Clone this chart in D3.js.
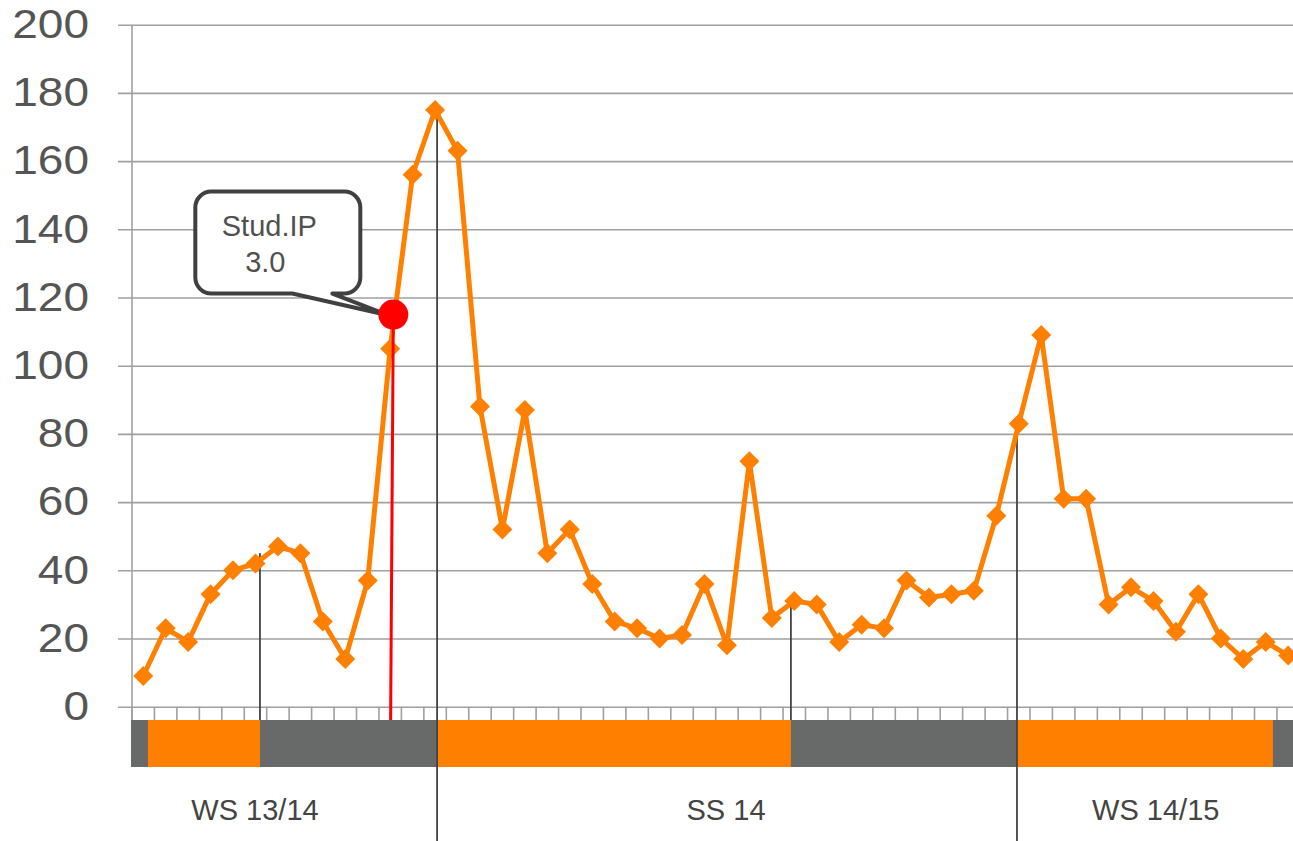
<!DOCTYPE html>
<html>
<head>
<meta charset="utf-8">
<script src="https://cdn.jsdelivr.net/npm/d3@7"></script>
<style>
  body { margin: 0; background: #fff; }
  svg { display: block; font-family: "Liberation Sans", Arial, sans-serif; }
</style>
</head>
<body>
<div id="chart"></div>
<script>
// weekly values (one point per week)
const weeks = d3.range(1, 53);
const visits = [9, 23, 19, 33, 40, 42, 47, 45, 25, 14, 37, 105, 156, 175, 163, 88, 52, 87, 45, 52,
  36, 25, 23, 20, 21, 36, 18, 72, 26, 31, 30, 19, 24, 23, 37, 32, 33, 34, 56, 83,
  109, 61, 61, 30, 35, 31, 22, 33, 20, 14, 19, 15];
const yTicks = [0, 20, 40, 60, 80, 100, 120, 140, 160, 180, 200];

// lecture periods, in weeks from the start of the axis
const lectureStart = [0.71, 13.59, 39.42];
const lectureEnd = [5.70, 29.35, 50.82];

// boundary markers: week position, value where the line starts, runs to page bottom?
const markerPos = [5.70, 13.59, 29.35, 39.42];
const markerTop = [45, 175, 31, 80];
const markerLong = [false, true, false, true];

const semesters = ["WS 13/14", "SS 14", "WS 14/15"];
const semesterCenter = [5.48, 26.46, 45.6];

// release event
const eventLines = ["Stud.IP", "3.0"];
const eventWeek = 11.64;
const eventWeekBottom = 11.52;
const eventValue = 115;

const width = 1293, height = 841;
const left = 132, step = 22.45;
const bandTop = 720, bandBottom = 767;
const orange = "#ff8000", grey = "#676a69";

const svg = d3.select("#chart").append("svg")
  .attr("width", width)
  .attr("height", height);

const x = d3.scaleBand()
  .domain(weeks)
  .range([left, left + weeks.length * step]);

const xw = d3.scaleLinear()
  .domain([0, weeks.length])
  .range([left, left + weeks.length * step]);

const y = d3.scaleLinear()
  .domain([0, 200])
  .range([706.7, 24.7]);

// gridlines, with stubs left of the axis
const grid = svg.append("g")
  .attr("transform", "translate(118,0)")
  .call(d3.axisRight(y).tickValues(yTicks).tickSize(width - 118).tickFormat(""));
grid.select(".domain").remove();
grid.selectAll("line").attr("stroke", "#a0a0a0").attr("stroke-width", 1.6);

// y labels, drawn a bit wide like the original
const yAxis = svg.append("g")
  .attr("transform", `translate(${left},0)`)
  .call(d3.axisLeft(y).tickValues(yTicks).tickSize(0));
yAxis.select(".domain").remove();
yAxis.selectAll("text")
  .attr("x", -43 / 1.15)
  .attr("transform", "scale(1.15,1)")
  .attr("font-size", 40)
  .attr("font-family", "Liberation Sans, Arial, sans-serif")
  .attr("fill", "#555");

// axis line
svg.append("line")
  .attr("x1", left).attr("x2", left)
  .attr("y1", y(200)).attr("y2", bandTop)
  .attr("stroke", "#a0a0a0").attr("stroke-width", 1.6);

// week ticks between categories
svg.append("g")
  .selectAll("line")
  .data(d3.range(0, weeks.length + 1))
  .join("line")
  .attr("x1", d => xw(d)).attr("x2", d => xw(d))
  .attr("y1", y(0)).attr("y2", bandTop)
  .attr("stroke", "#a0a0a0").attr("stroke-width", 1.6);

// semester band
svg.append("rect")
  .attr("x", left - 1).attr("y", bandTop)
  .attr("width", width - left + 1).attr("height", bandBottom - bandTop)
  .attr("fill", grey);
svg.append("g")
  .selectAll("rect")
  .data(lectureStart)
  .join("rect")
  .attr("x", d => xw(d))
  .attr("y", bandTop)
  .attr("width", (d, i) => xw(lectureEnd[i]) - xw(d))
  .attr("height", bandBottom - bandTop)
  .attr("fill", orange);

// boundary markers
svg.append("g")
  .selectAll("line")
  .data(markerPos)
  .join("line")
  .attr("x1", d => xw(d)).attr("x2", d => xw(d))
  .attr("y1", (d, i) => y(markerTop[i]))
  .attr("y2", (d, i) => markerLong[i] ? height : bandTop)
  .attr("stroke", "#444").attr("stroke-width", 1.8);

// semester labels
svg.append("g")
  .selectAll("text")
  .data(semesters)
  .join("text")
  .attr("x", (d, i) => xw(semesterCenter[i]))
  .attr("y", 820)
  .attr("text-anchor", "middle")
  .attr("font-size", 29)
  .attr("fill", "#444")
  .text(d => d);

// series line
const line = d3.line()
  .x((d, i) => x(weeks[i]) + x.bandwidth() / 2)
  .y(d => y(d));

svg.append("path")
  .datum(visits)
  .attr("d", line)
  .attr("fill", "none")
  .attr("stroke", orange)
  .attr("stroke-width", 5)
  .attr("stroke-linejoin", "round");

svg.append("g")
  .selectAll("path")
  .data(visits)
  .join("path")
  .attr("d", d3.symbol(d3.symbolSquare, 200))
  .attr("transform", (d, i) => `translate(${x(weeks[i]) + x.bandwidth() / 2},${y(d)}) rotate(45)`)
  .attr("fill", orange);

// release marker
const cx = xw(eventWeek), cy = y(eventValue);
svg.append("line")
  .attr("x1", cx).attr("y1", cy)
  .attr("x2", xw(eventWeekBottom)).attr("y2", bandTop)
  .attr("stroke", "#ff0000").attr("stroke-width", 3);

// callout bubble
const bl = cx - 198, br = cx - 33, bt = cy - 123, bb = cy - 21, r = 16;
const bubble = d3.path();
bubble.moveTo(bl + r, bt);
bubble.lineTo(br - r, bt);
bubble.arcTo(br, bt, br, bt + r, r);
bubble.lineTo(br, bb - r);
bubble.arcTo(br, bb, br - r, bb, r);
bubble.lineTo(bl + 137, bb);
bubble.lineTo(cx - 4, cy + 1);
bubble.lineTo(bl + 97, bb);
bubble.lineTo(bl + r, bb);
bubble.arcTo(bl, bb, bl, bb - r, r);
bubble.lineTo(bl, bt + r);
bubble.arcTo(bl, bt, bl + r, bt, r);
bubble.closePath();

svg.append("path")
  .attr("d", bubble.toString())
  .attr("fill", "#fff")
  .attr("stroke", "#404040")
  .attr("stroke-width", 4)
  .attr("stroke-linejoin", "round");

svg.append("g")
  .selectAll("text")
  .data(eventLines)
  .join("text")
  .attr("x", (d, i) => i === 0 ? bl + 74 : bl + 70)
  .attr("y", (d, i) => bt + 44 + i * 36)
  .attr("text-anchor", "middle")
  .attr("font-size", 29)
  .attr("fill", "#505050")
  .text(d => d);

svg.append("circle")
  .attr("cx", cx).attr("cy", cy)
  .attr("r", 15)
  .attr("fill", "#ff0000");
</script>
</body>
</html>
